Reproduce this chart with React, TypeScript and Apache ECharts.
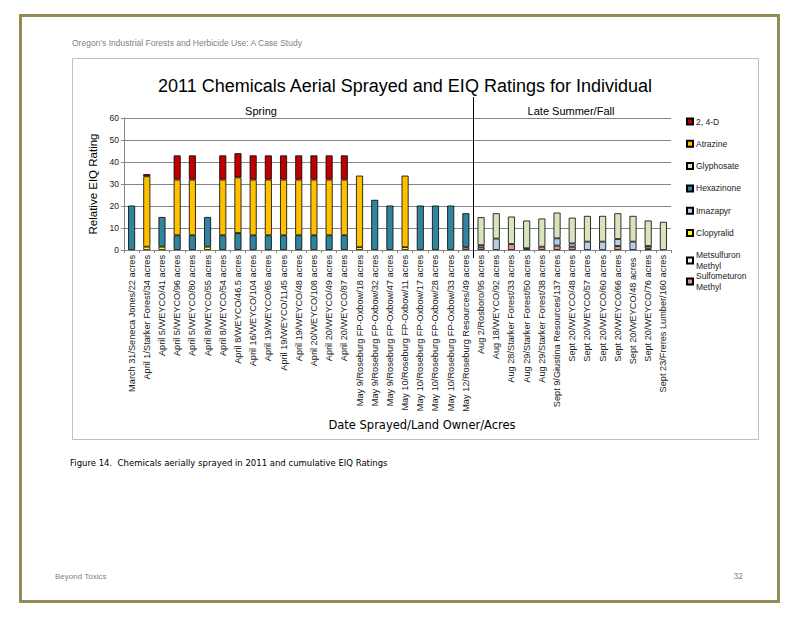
import React, { useEffect, useRef } from "react";
import * as echarts from "echarts";

const categories = [
  "March 31/Seneca Jones/22 acres",
  "April 1/Starker Forest/34 acres",
  "April 5/WEYCO/41 acres",
  "April 5/WEYCO/96 acres",
  "April 5/WEYCO/80 acres",
  "April 8/WEYCO/55 acres",
  "April 8/WEYCO/54 acres",
  "April 8/WEYCO/46.5 acres",
  "April 16/WEYCO/104 acres",
  "April 19/WEYCO/65 acres",
  "April 19/WEYCO/1145 acres",
  "April 19/WEYCO/48 acres",
  "April 20/WEYCO/108 acres",
  "April 20/WEYCO/49 acres",
  "April 20/WEYCO/87 acres",
  "May 9/Roseburg FP-Oxbow/18 acres",
  "May 9/Roseburg FP-Oxbow/32 acres",
  "May 9/Roseburg FP-Oxbow/47 acres",
  "May 10/Roseburg FP-Oxbow/11 acres",
  "May 10/Roseburg FP-Oxbow/17 acres",
  "May 10/Roseburg FP-Oxbow/28 acres",
  "May 10/Roseburg FP-Oxbow/33 acres",
  "May 12/Roseburg Resources/49 acres",
  "Aug 2/Rosboro/95 acres",
  "Aug 18/WEYCO/92 acres",
  "Aug 28/Starker Forest/33 acres",
  "Aug 29/Starker Forest/50 acres",
  "Aug 29/Starker Forest/38 acres",
  "Sept 9/Giustina Resources/137 acres",
  "Sept 20/WEYCO/48 acres",
  "Sept 20/WEYCO/57 acres",
  "Sept 20/WEYCO/60 acres",
  "Sept 20/WEYCO/66 acres",
  "Sept 20/WEYCO/48 acres ",
  "Sept 20/WEYCO/76 acres",
  "Sept 23/Freres Lumber/160 acres",
];

// Segment heights per chemical (stacked bottom → top)
const sulfometuron = [0,0,0,0,0,0,0,0,0,0,0,0,0,0,0,0,0,0,0,0,0,0,1.2,1.2,0,2.7,0.8,1.5,2,1.5,0,0,1.8,0,0,0];
const metsulfuron = [0,0,0,0,0,0,0,0,0,0,0,0,0,0,0,0,0,0,0,0,0,0,0,1.0,0,0,0,0,0,0,0,0,0,0,0.7,0];
const clopyralid = [0,1.5,1.5,0,0,1.5,0,0,0,0,0,0,0,0,0,1.3,0,0,1.3,0,0,0,0,0,0,0,0,0,0,0,0,0,0,0,0,0];
const imazapyr = [0,0,0,0,0,0,0,0,0,0,0,0,0,0,0,0,0,0,0,0,0,0,0,0,5.2,0,0,0,3.3,1.5,3.8,3.8,3.2,3.8,1.1,0];
const hexazinone = [20.2,0,13.5,6.7,6.7,13.5,6.7,7.7,6.7,6.7,6.7,6.7,6.7,6.7,6.7,0,22.8,20.2,0,20.2,20.2,20.2,15.5,0,0,0,0,0,0,0,0,0,0,0,0,0];
const glyphosate = [0,0,0,0,0,0,0,0,0,0,0,0,0,0,0,0,0,0,0,0,0,0,0,12.7,11.5,12.5,12.6,12.8,11.7,11.7,11.7,11.7,11.7,11.7,11.6,12.8];
const atrazine = [0,32,0,25.3,25.3,0,25.3,25.3,25.3,25.3,25.3,25.3,25.3,25.3,25.3,32.5,0,0,32.5,0,0,0,0,0,0,0,0,0,0,0,0,0,0,0,0,0];
const d24 = [0,1,0,11,11,0,11,11,11,11,11,11,11,11,11,0,0,0,0,0,0,0,0,0,0,0,0,0,0,0,0,0,0,0,0,0];

const yTicks = [0, 10, 20, 30, 40, 50, 60];

const seriesDefs = [
  { name: "Sulfometuron Methyl", data: sulfometuron, color: "#D99694" },
  { name: "Metsulfuron Methyl", data: metsulfuron, color: "#F2F2F2" },
  { name: "Clopyralid", data: clopyralid, color: "#FFFF00" },
  { name: "Imazapyr", data: imazapyr, color: "#B9CDE5" },
  { name: "Hexazinone", data: hexazinone, color: "#31849B" },
  { name: "Glyphosate", data: glyphosate, color: "#D7E4BD" },
  { name: "Atrazine", data: atrazine, color: "#FFC000" },
  { name: "2, 4-D", data: d24, color: "#C00000" },
];

const legendTop = ["2, 4-D", "Atrazine", "Glyphosate", "Hexazinone", "Imazapyr", "Clopyralid"];
const legendBottom = ["Metsulfuron Methyl", "Sulfometuron Methyl"];

const SANS = "'Liberation Sans', Arial, sans-serif";
const VERD = "'DejaVu Sans', Verdana, sans-serif";

function baseGraphics(sepX: number | null) {
  const els: any[] = [
    {
      id: "frame",
      type: "rect",
      shape: { x: 20.5, y: 15.5, width: 758, height: 586 },
      style: { fill: "none", stroke: "#948A54", lineWidth: 3 },
      z: -1,
    },
    {
      id: "box",
      type: "rect",
      shape: { x: 72.5, y: 58.5, width: 686, height: 381 },
      style: { fill: "none", stroke: "#BFBFBF", lineWidth: 1 },
      z: -1,
    },
    {
      id: "header",
      type: "text",
      x: 72,
      y: 43,
      style: { text: "Oregon\u2019s Industrial Forests and Herbicide Use: A Case Study", fill: "#7F7F7F", font: `8.5px ${SANS}`, textVerticalAlign: "middle" },
    },
    {
      id: "spring",
      type: "text",
      x: 261,
      y: 111,
      style: { text: "Spring", fill: "#000", font: `11px ${SANS}`, textAlign: "center", textVerticalAlign: "middle" },
    },
    {
      id: "fall",
      type: "text",
      x: 571,
      y: 111,
      style: { text: "Late Summer/Fall", fill: "#000", font: `11px ${SANS}`, textAlign: "center", textVerticalAlign: "middle" },
    },
    {
      id: "xname",
      type: "text",
      x: 422,
      y: 425,
      style: { text: "Date Sprayed/Land Owner/Acres", fill: "#000", font: `11.5px ${VERD}`, textAlign: "center", textVerticalAlign: "middle" },
    },
    {
      id: "caption",
      type: "text",
      x: 70,
      y: 463,
      style: { text: "Figure 14.  Chemicals aerially sprayed in 2011 and cumulative EIQ Ratings", fill: "#000", font: `8.5px ${VERD}`, textVerticalAlign: "middle" },
    },
    {
      id: "footer",
      type: "text",
      x: 55,
      y: 576,
      style: { text: "Beyond Toxics", fill: "#7F7F7F", font: `8px ${SANS}`, textVerticalAlign: "middle" },
    },
    {
      id: "page",
      type: "text",
      x: 743,
      y: 576,
      style: { text: "32", fill: "#7F7F7F", font: `8.5px ${SANS}`, textAlign: "right", textVerticalAlign: "middle" },
    },
  ];
  if (sepX !== null) {
    els.push({
      id: "sep",
      type: "line",
      shape: { x1: sepX, y1: 97, x2: sepX, y2: 258 },
      style: { stroke: "#000", lineWidth: 1 },
      z: 10,
    });
  }
  return els;
}

export default function App() {
  const ref = useRef<HTMLDivElement>(null);
  useEffect(() => {
    const chart = echarts.init(ref.current!, null, { renderer: "svg" });
    const option: any = {
      animation: false,
      backgroundColor: "#fff",
      title: {
        text: "2011 Chemicals Aerial Sprayed and EIQ Ratings for Individual",
        left: 400,
        top: 72,
        textAlign: "center",
        textStyle: { fontFamily: SANS, fontSize: 18, fontWeight: "normal", color: "#000" },
      },
      legend: [
        {
          data: legendTop,
          orient: "vertical",
          left: 681,
          top: 111,
          itemWidth: 6,
          itemHeight: 6,
          itemGap: 11.3,
          icon: "rect",
          textStyle: { fontFamily: SANS, fontSize: 8.5, color: "#222", lineHeight: 11, padding: [0, 0, 0, -2] },
          selectedMode: false,
        },
        {
          data: legendBottom,
          orient: "vertical",
          left: 681,
          top: 245,
          itemWidth: 6,
          itemHeight: 6,
          itemGap: 0,
          icon: "rect",
          formatter: (n: string) => n.replace(" ", "\n"),
          textStyle: { fontFamily: SANS, fontSize: 8.5, color: "#222", lineHeight: 10.5, padding: [0, 0, 0, -2] },
          selectedMode: false,
        },
      ],
      grid: { left: 124, right: 129, top: 118, bottom: 368, containLabel: false },
      xAxis: {
        type: "category",
        data: categories,
        axisLine: { lineStyle: { color: "#868686" } },
        axisTick: { show: true, length: 3, lineStyle: { color: "#868686" } },
        axisLabel: { interval: 0, rotate: 90, fontFamily: SANS, fontSize: 9.2, color: "#222", margin: 5 },
      },
      yAxis: {
        type: "value",
        min: 0,
        max: 60,
        interval: 10,
        name: "Relative EIQ Rating",
        nameLocation: "middle",
        nameGap: 25,
        nameTextStyle: { fontFamily: SANS, fontSize: 11.5, color: "#000" },
        axisLine: { show: true, lineStyle: { color: "#868686" } },
        axisTick: { show: true, length: 3, lineStyle: { color: "#868686" } },
        axisLabel: {
          fontFamily: SANS,
          fontSize: 8.5,
          color: "#222",
          margin: 5,
          formatter: (v: number) => (yTicks.includes(v) ? String(v) : ""),
        },
        splitLine: { lineStyle: { color: "#868686", width: 1 } },
      },
      series: seriesDefs.map((s) => ({
        name: s.name,
        type: "bar",
        stack: "eiq",
        barWidth: 7,
        data: s.data.map((v) => (v === 0 ? "-" : v)),
        itemStyle: { color: s.color, borderColor: "#000", borderWidth: 0.8 },
      })),
      graphic: { elements: baseGraphics(null) },
    };
    chart.setOption(option);
    const x22 = chart.convertToPixel({ xAxisIndex: 0 }, categories[22]) as number;
    const x23 = chart.convertToPixel({ xAxisIndex: 0 }, categories[23]) as number;
    const sepX = Math.round((x22 + x23) / 2) + 0.5;
    chart.setOption({ graphic: { elements: baseGraphics(sepX) } });
    return () => chart.dispose();
  }, []);
  return (
    <div
      ref={ref}
      style={{ position: "absolute", left: 0, top: 0, width: 800, height: 618, background: "#fff" }}
    />
  );
}
